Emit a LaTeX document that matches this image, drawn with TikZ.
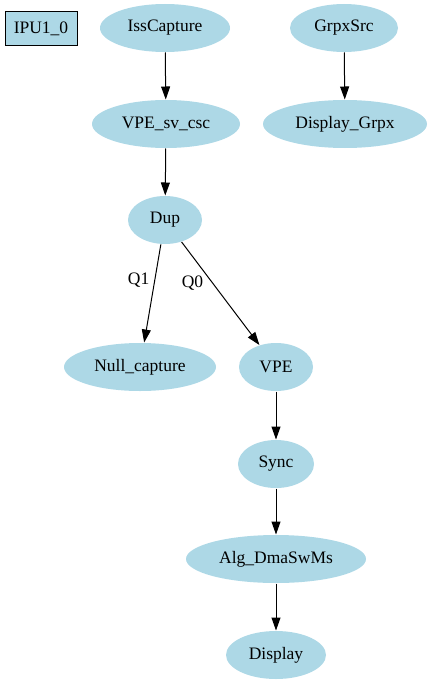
\documentclass[tikz,border=0pt]{standalone}
\usepackage{fontspec}
\setmainfont{Liberation Serif}
\usetikzlibrary{arrows.meta, shapes.geometric}
\definecolor{clight}{HTML}{ADD8E6}
\tikzset{
  every picture/.style={font=\fontsize{17.5}{20}\selectfont, line width=1pt},
  blob/.style={ellipse, fill=clight, draw=none, inner sep=0pt, minimum width=#1, minimum height=48},
  blob/.default=74,
  tag/.style={rectangle, fill=clight, draw=black, inner sep=0pt, minimum width=72, minimum height=34},
  arrow/.style={-{Triangle[length=13pt, width=9pt]}, draw=black},
  elabel/.style={inner sep=0pt},
}
\begin{document}
\begin{tikzpicture}[x=1pt, y=-1pt]
  \useasboundingbox (0,0) rectangle (429,685);
  % cluster tag
  \node[tag] (ipu) at (41,29) {IPU1\_0};
  % capture chain
  \node[blob=130] (iss) at (165,28) {IssCapture};
  \node[blob=148] (vpesv) at (166,124) {VPE\_sv\_csc};
  \node[blob=74] (dup) at (165,220) {Dup};
  \node[blob=152] (null) at (140,367) {Null\_capture};
  \node[blob=74] (vpe) at (276,367) {VPE};
  \node[blob=76] (sync) at (276,464) {Sync};
  \node[blob=180] (alg) at (276,559) {Alg\_DmaSwMs};
  \node[blob=100] (disp) at (276,655) {Display};
  % graphics chain
  \node[blob=108] (grpx) at (344,28) {GrpxSrc};
  \node[blob=164] (dgrpx) at (345,124) {Display\_Grpx};
  \draw[arrow] (iss) -- (vpesv);
  \draw[arrow] (vpesv) -- (dup);
  \draw[arrow] (dup) -- node[elabel, pos=0.36, left=5pt] (q1) {Q1} (null);
  \draw[arrow] (dup) -- node[elabel, pos=0.4, left=9pt] (q0) {Q0} (vpe);
  \draw[arrow] (vpe) -- (sync);
  \draw[arrow] (sync) -- (alg);
  \draw[arrow] (alg) -- (disp);
  \draw[arrow] (grpx) -- (dgrpx);
\end{tikzpicture}
\end{document}
